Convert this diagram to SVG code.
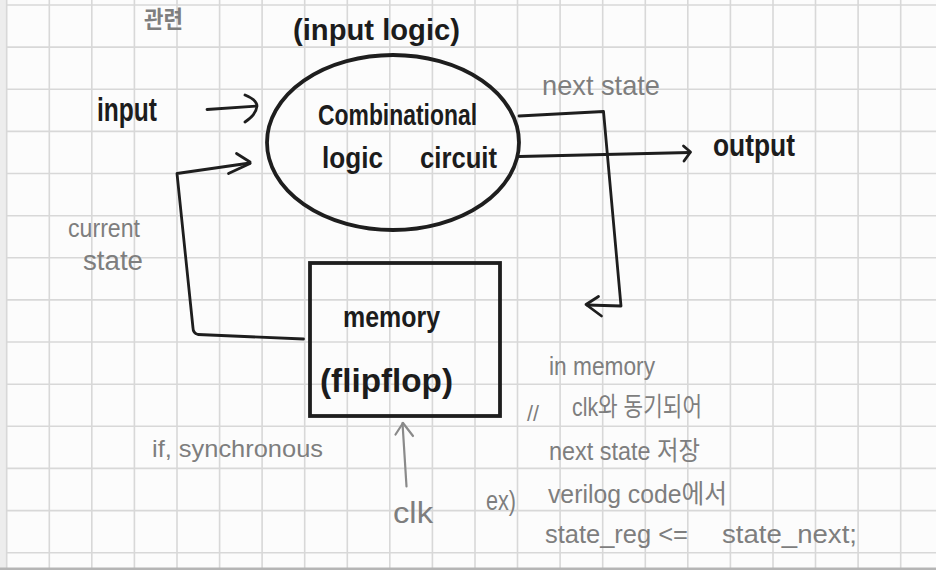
<svg xmlns="http://www.w3.org/2000/svg" width="936" height="570" viewBox="0 0 936 570">
<style>
.ink{fill:#1c1c1c;font-family:"Liberation Sans","Noto Sans CJK KR",sans-serif;font-weight:bold}
.pen{fill:#7e7e7e;font-family:"Liberation Sans","Noto Sans CJK KR",sans-serif}
.ln{fill:none;stroke:#1e1e1e;stroke-width:2.8;stroke-linecap:round;stroke-linejoin:round}
.thick{fill:none;stroke:#1e1e1e;stroke-width:3.8}
.gln{fill:none;stroke:#8a8a8a;stroke-width:2.2;stroke-linecap:round;stroke-linejoin:round}
</style>
<rect width="936" height="570" fill="#fcfcfc"/>
<rect x="0" y="0" width="6" height="570" fill="#ededed"/>
<g id="grid" stroke="#d8d8d8" stroke-width="1.6" fill="none">
<path d="M6.7 0V570M49.3 0V570M91.8 0V570M134.4 0V570M177 0V570M219.6 0V570M262.1 0V570M304.7 0V570M347.3 0V570M389.8 0V570M432.4 0V570M475 0V570M517.5 0V570M560.1 0V570M602.7 0V570M645.3 0V570M687.8 0V570M730.4 0V570M773 0V570M815.5 0V570M858.1 0V570M900.7 0V570"/>
<path d="M6 5H936M6 47.1H936M6 89.3H936M6 131.4H936M6 173.5H936M6 215.7H936M6 257.8H936M6 299.9H936M6 342H936M6 384.2H936M6 426.3H936M6 468.4H936M6 510.6H936M6 552.7H936"/>
</g>
<rect x="0" y="567.5" width="936" height="2.5" fill="#b5b5b5"/>

<g id="node-combinational">
<ellipse cx="393" cy="142.5" rx="126" ry="87.5" class="thick"/>
<text class="ink" x="318" y="125" font-size="30" textLength="159" lengthAdjust="spacingAndGlyphs">Combinational</text>
<text class="ink" x="322" y="168" font-size="30" textLength="61" lengthAdjust="spacingAndGlyphs">logic</text>
<text class="ink" x="420" y="168" font-size="30" textLength="77" lengthAdjust="spacingAndGlyphs">circuit</text>
</g>

<g id="node-memory">
<rect x="310" y="263" width="190" height="153" class="thick"/>
<text class="ink" x="343" y="327" font-size="30" textLength="97" lengthAdjust="spacingAndGlyphs">memory</text>
<text class="ink" x="320" y="392" font-size="34" textLength="133" lengthAdjust="spacingAndGlyphs">(flipflop)</text>
</g>

<g id="connectors">
<path class="ln" d="M207 109.5L256.5 106"/>
<path class="ln" d="M245 95Q257 100 257 106Q256 115 245 122"/>
<path class="ln" d="M303.5 339L198 334.5Q193 333 193 328L177 173.5L250 163"/>
<path class="ln" d="M236.5 153.5L250 162M228.5 173.5L250 163.5"/>
<path class="ln" d="M519 116L603.5 111.5L621 306L587 305"/>
<path class="ln" d="M598.5 296.5L586 304.5L601.5 316"/>
<path class="ln" d="M519.5 156.5L690 152.5"/>
<path class="ln" d="M683.5 146L690.5 152L684 161"/>
<path class="gln" d="M406.5 486.5L402.5 423"/>
<path class="gln" d="M395.5 434.5L403 423L413 436"/>
</g>

<g id="labels">
<text class="pen" x="144" y="28" font-size="24" font-weight="bold" textLength="39" lengthAdjust="spacingAndGlyphs">관련</text>
<text class="ink" x="293" y="40" font-size="30" textLength="167" lengthAdjust="spacingAndGlyphs">(input logic)</text>
<text class="ink" x="97" y="121" font-size="34" textLength="60" lengthAdjust="spacingAndGlyphs">input</text>
<text class="pen" x="542" y="95" font-size="28" textLength="118" lengthAdjust="spacingAndGlyphs">next state</text>
<text class="ink" x="713" y="156" font-size="32" textLength="82" lengthAdjust="spacingAndGlyphs">output</text>
<text class="pen" x="68" y="237" font-size="26" textLength="72" lengthAdjust="spacingAndGlyphs">current</text>
<text class="pen" x="83" y="270" font-size="28" textLength="60" lengthAdjust="spacingAndGlyphs">state</text>
<text class="pen" x="152" y="457" font-size="24" textLength="171" lengthAdjust="spacingAndGlyphs">if, synchronous</text>
<text class="pen" x="393" y="523" font-size="30" textLength="40" lengthAdjust="spacingAndGlyphs">clk</text>
<text class="pen" x="486" y="510" font-size="28" textLength="30" lengthAdjust="spacingAndGlyphs">ex)</text>
<text class="pen" x="549" y="375" font-size="26" textLength="106" lengthAdjust="spacingAndGlyphs">in memory</text>
<text class="pen" x="527" y="421" font-size="22" textLength="12" lengthAdjust="spacingAndGlyphs">//</text>
<text class="pen" x="572" y="416" font-size="26" textLength="130" lengthAdjust="spacingAndGlyphs">clk와 동기되어</text>
<text class="pen" x="549" y="460" font-size="26" textLength="151" lengthAdjust="spacingAndGlyphs">next state 저장</text>
<text class="pen" x="548" y="503" font-size="26" textLength="179" lengthAdjust="spacingAndGlyphs">verilog code에서</text>
<text class="pen" x="545" y="543" font-size="26" textLength="143" lengthAdjust="spacingAndGlyphs">state_reg &lt;=</text>
<text class="pen" x="722" y="543" font-size="26" textLength="135" lengthAdjust="spacingAndGlyphs">state_next;</text>
</g>
</svg>
